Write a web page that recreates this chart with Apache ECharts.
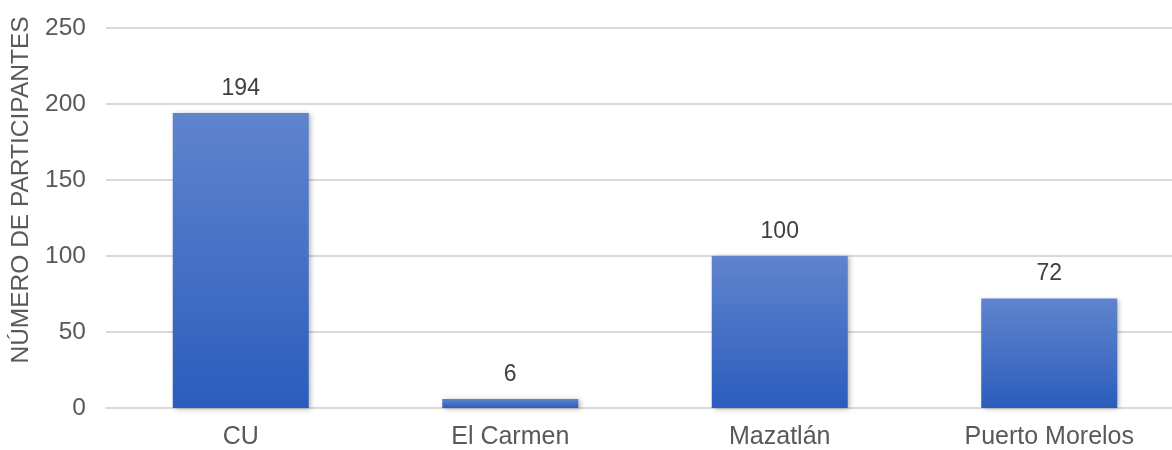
<!DOCTYPE html>
<html><head><meta charset="utf-8">
<script src="https://cdn.jsdelivr.net/npm/echarts@6/dist/echarts.min.js"></script>
<style>html,body{margin:0;padding:0;background:#fff;overflow:hidden;width:1172px;height:450px}#c{width:1184px;height:450px}</style>
</head><body><div id="c"></div>
<script>
const categories = ["CU", "El Carmen", "Mazatlán", "Puerto Morelos"];
const values = [194, 6, 100, 72];
const yTitle = "NÚMERO DE PARTICIPANTES";
const chart = echarts.init(document.getElementById('c'));
chart.setOption({
  animation: false,
  grid: {left: 106, top: 28, right: 0, bottom: 38},
  xAxis: {
    type: 'category', data: categories,
    axisLine: {show: true, lineStyle: {color: '#d9d9d9', width: 2}},
    axisTick: {show: false},
    axisLabel: {color: '#595959', fontSize: 25, fontFamily: 'Liberation Sans', margin: 17}
  },
  yAxis: {
    type: 'value', min: 0, max: 250, interval: 50,
    name: yTitle, nameLocation: 'middle', nameGap: 72, nameRotate: 90,
    nameTextStyle: {color: '#595959', fontSize: 24.5, fontFamily: 'Liberation Sans', padding: [0,0,0,56]},
    axisLine: {show: false}, axisTick: {show: false},
    axisLabel: {color: '#595959', fontSize: 24.5, fontFamily: 'Liberation Sans', margin: 20},
    splitLine: {lineStyle: {color: '#d9d9d9', width: 2}}
  },
  series: [{
    type: 'bar', data: values, barWidth: 136,
    itemStyle: {
      color: new echarts.graphic.LinearGradient(0, 0, 0, 1, [
        {offset: 0, color: '#6084cd'}, {offset: 1, color: '#2b5dbd'}
      ]),
      shadowColor: 'rgba(0,0,0,0.3)', shadowBlur: 5, shadowOffsetX: 2, shadowOffsetY: 1
    },
    label: {show: true, position: 'top', distance: 13, color: '#404040', fontSize: 23, fontFamily: 'Liberation Sans'}
  }]
});
</script></body></html>
